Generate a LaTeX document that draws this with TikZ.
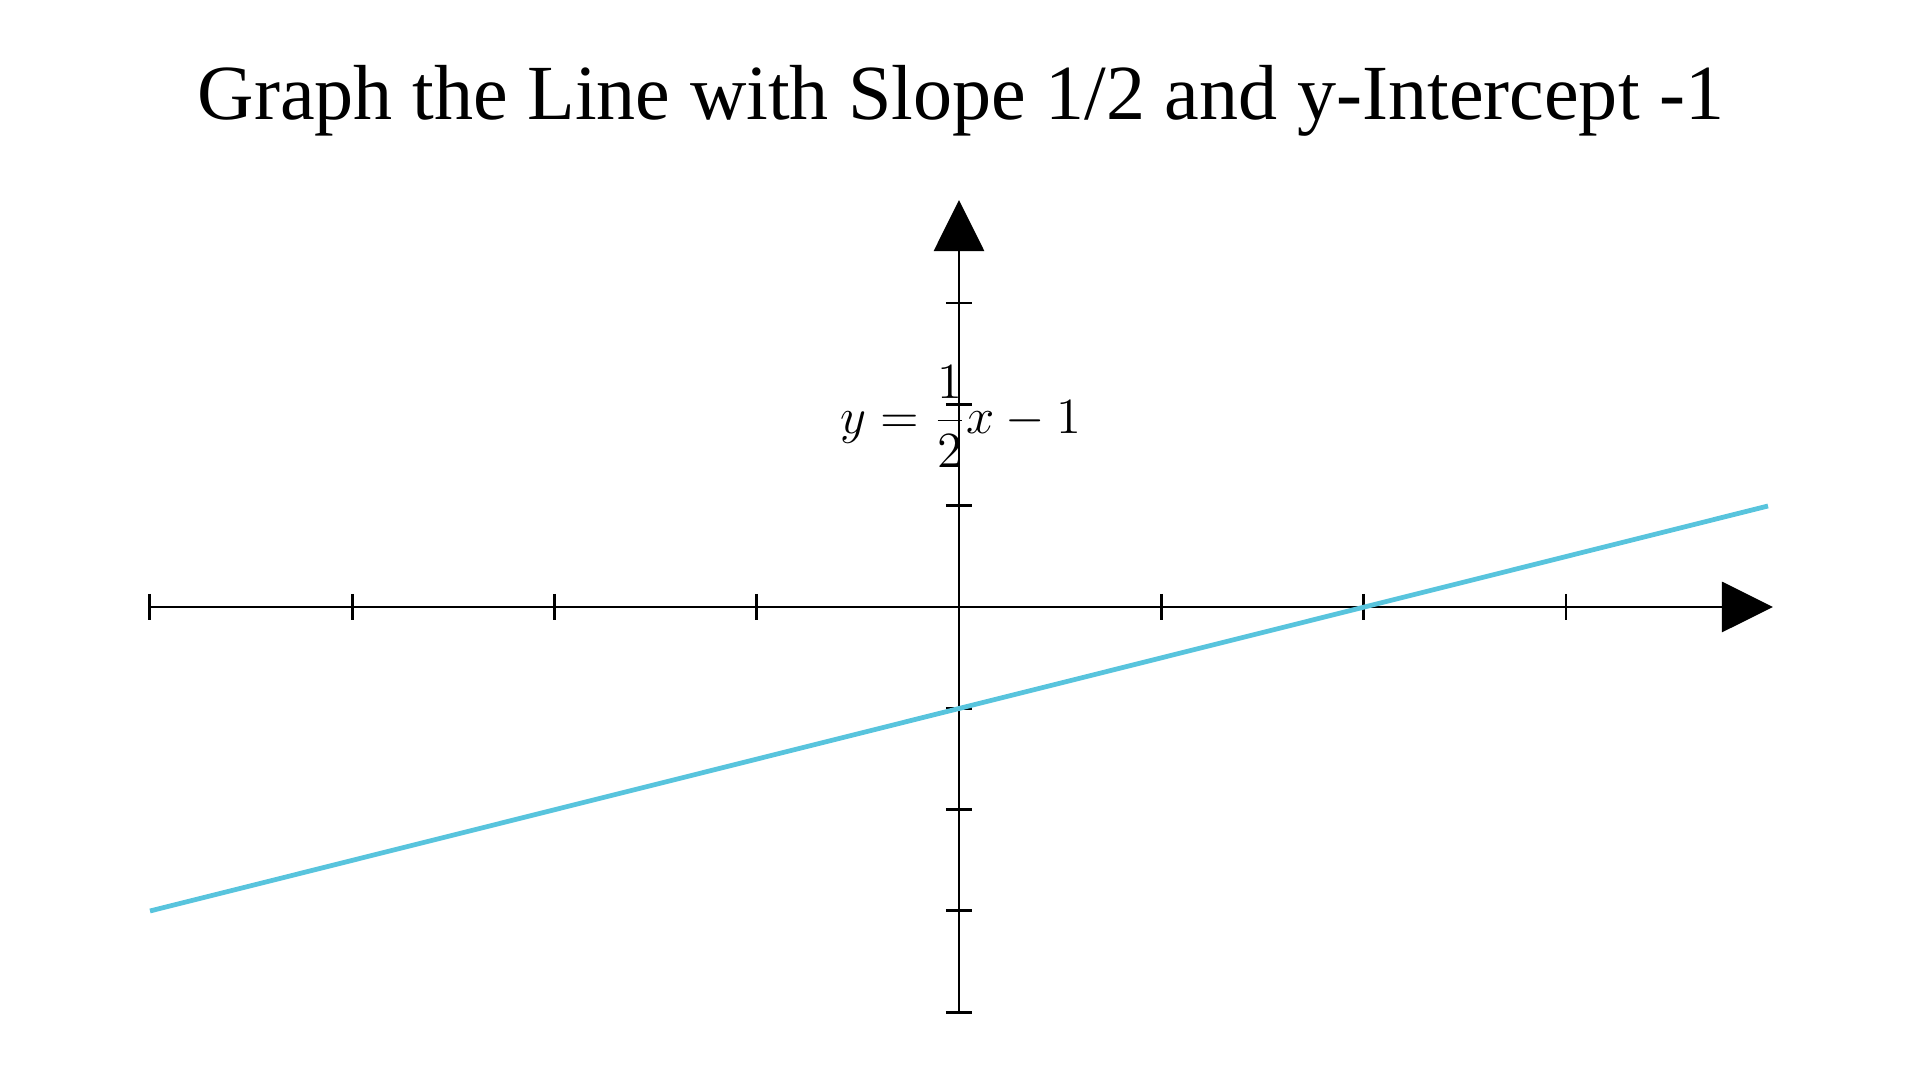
\documentclass[tikz,border=0pt]{standalone}
\usepackage{fontspec}
\newfontfamily\titlefont{Liberation Serif}
\usetikzlibrary{arrows.meta,calc}
\definecolor{lineblue}{HTML}{58C4DD}
\tikzset{
  axisline/.style={line width=0.8pt, black, -{Triangle[length=0.51cm,width=0.5cm]}},
  tickmark/.style={line width=0.8pt, black},
  graphline/.style={line width=1.35pt, lineblue},
}
\begin{document}
\begin{tikzpicture}[x=0.01cm,y=-0.01cm]
\useasboundingbox (0,0) rectangle (1920,1080);
% axes coordinates (px units, unit x = 202.3px, unit y = 101.3px)
\coordinate (O) at (959,607);
\coordinate (xl) at (150,607);
\coordinate (xr) at (1773,607);
\coordinate (yb) at (959,1012);
\coordinate (yt) at (959,200);
\coordinate (pl) at (150,911);
\coordinate (pr) at (1768,506);
\node[font=\titlefont\fontsize{22.2}{26}\selectfont, anchor=base] (title) at (961,120) {Graph the Line with Slope 1/2 and y-Intercept -1};
\draw[axisline] (xl) -- (xr);
\draw[axisline] (yb) -- (yt);
\foreach \i in {-4,...,3} {
  \draw[tickmark] ([yshift=0.13cm]$(O)+(\i*202.3,0)$) -- ([yshift=-0.13cm]$(O)+(\i*202.3,0)$);
}
\foreach \j in {-4,...,-1,1,2,3} {
  \draw[tickmark] ([xshift=-0.13cm]$(O)+(0,-\j*101.3)$) -- ([xshift=0.13cm]$(O)+(0,-\j*101.3)$);
}
\draw[graphline] (pl) -- (pr);
\node[font=\fontsize{14.8}{17}\selectfont, inner sep=0pt] (eq) at (961,417) {$\displaystyle y = \frac{1}{2}x - 1$};
\end{tikzpicture}
\end{document}
